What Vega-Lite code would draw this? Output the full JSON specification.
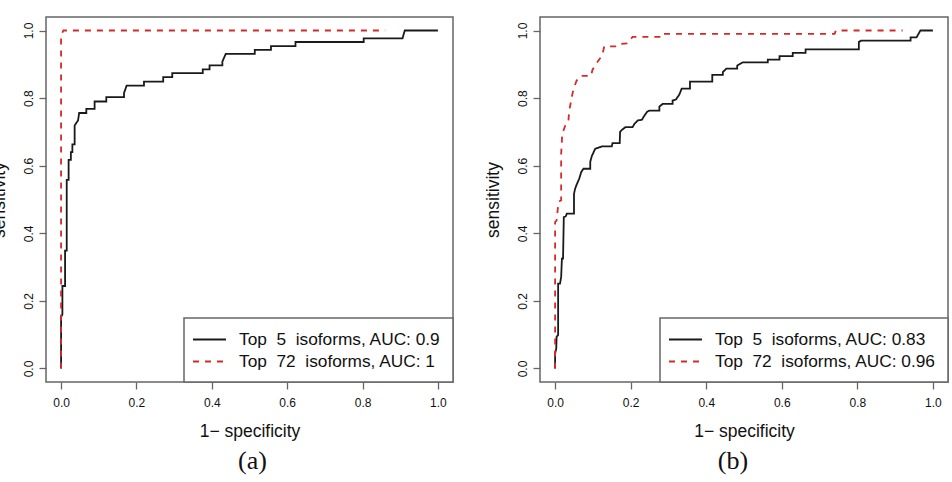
{
  "$schema": "https://vega.github.io/schema/vega-lite/v6.json",
  "padding": {"left": -11, "top": 16, "right": 0, "bottom": 0},
  "background": "white",
  "spacing": 28,
  "datasets": {
    "a": [
      {"model": "Top 5", "i": 0, "fpr": 0, "tpr": 0},
      {"model": "Top 5", "i": 1, "fpr": 0, "tpr": 0.152},
      {"model": "Top 5", "i": 2, "fpr": 0.0035, "tpr": 0.16},
      {"model": "Top 5", "i": 3, "fpr": 0.0035, "tpr": 0.244},
      {"model": "Top 5", "i": 4, "fpr": 0.0106, "tpr": 0.244},
      {"model": "Top 5", "i": 5, "fpr": 0.0106, "tpr": 0.349},
      {"model": "Top 5", "i": 6, "fpr": 0.015, "tpr": 0.349},
      {"model": "Top 5", "i": 7, "fpr": 0.015, "tpr": 0.558},
      {"model": "Top 5", "i": 8, "fpr": 0.02, "tpr": 0.558},
      {"model": "Top 5", "i": 9, "fpr": 0.02, "tpr": 0.617},
      {"model": "Top 5", "i": 10, "fpr": 0.026, "tpr": 0.617},
      {"model": "Top 5", "i": 11, "fpr": 0.026, "tpr": 0.64},
      {"model": "Top 5", "i": 12, "fpr": 0.03, "tpr": 0.64},
      {"model": "Top 5", "i": 13, "fpr": 0.03, "tpr": 0.663},
      {"model": "Top 5", "i": 14, "fpr": 0.036, "tpr": 0.663},
      {"model": "Top 5", "i": 15, "fpr": 0.036, "tpr": 0.719},
      {"model": "Top 5", "i": 16, "fpr": 0.045, "tpr": 0.734},
      {"model": "Top 5", "i": 17, "fpr": 0.048, "tpr": 0.756},
      {"model": "Top 5", "i": 18, "fpr": 0.067, "tpr": 0.756},
      {"model": "Top 5", "i": 19, "fpr": 0.067, "tpr": 0.768},
      {"model": "Top 5", "i": 20, "fpr": 0.089, "tpr": 0.768},
      {"model": "Top 5", "i": 21, "fpr": 0.089, "tpr": 0.79},
      {"model": "Top 5", "i": 22, "fpr": 0.12, "tpr": 0.79},
      {"model": "Top 5", "i": 23, "fpr": 0.12, "tpr": 0.803},
      {"model": "Top 5", "i": 24, "fpr": 0.167, "tpr": 0.803},
      {"model": "Top 5", "i": 25, "fpr": 0.167, "tpr": 0.815},
      {"model": "Top 5", "i": 26, "fpr": 0.174, "tpr": 0.837},
      {"model": "Top 5", "i": 27, "fpr": 0.22, "tpr": 0.837},
      {"model": "Top 5", "i": 28, "fpr": 0.22, "tpr": 0.849},
      {"model": "Top 5", "i": 29, "fpr": 0.271, "tpr": 0.849},
      {"model": "Top 5", "i": 30, "fpr": 0.271, "tpr": 0.862},
      {"model": "Top 5", "i": 31, "fpr": 0.295, "tpr": 0.862},
      {"model": "Top 5", "i": 32, "fpr": 0.295, "tpr": 0.874},
      {"model": "Top 5", "i": 33, "fpr": 0.376, "tpr": 0.874},
      {"model": "Top 5", "i": 34, "fpr": 0.376, "tpr": 0.885},
      {"model": "Top 5", "i": 35, "fpr": 0.394, "tpr": 0.885},
      {"model": "Top 5", "i": 36, "fpr": 0.394, "tpr": 0.897},
      {"model": "Top 5", "i": 37, "fpr": 0.428, "tpr": 0.897},
      {"model": "Top 5", "i": 38, "fpr": 0.428, "tpr": 0.908},
      {"model": "Top 5", "i": 39, "fpr": 0.437, "tpr": 0.931},
      {"model": "Top 5", "i": 40, "fpr": 0.514, "tpr": 0.931},
      {"model": "Top 5", "i": 41, "fpr": 0.514, "tpr": 0.943},
      {"model": "Top 5", "i": 42, "fpr": 0.557, "tpr": 0.943},
      {"model": "Top 5", "i": 43, "fpr": 0.557, "tpr": 0.954},
      {"model": "Top 5", "i": 44, "fpr": 0.622, "tpr": 0.954},
      {"model": "Top 5", "i": 45, "fpr": 0.622, "tpr": 0.966},
      {"model": "Top 5", "i": 46, "fpr": 0.803, "tpr": 0.966},
      {"model": "Top 5", "i": 47, "fpr": 0.803, "tpr": 0.977},
      {"model": "Top 5", "i": 48, "fpr": 0.906, "tpr": 0.977},
      {"model": "Top 5", "i": 49, "fpr": 0.912, "tpr": 1.0},
      {"model": "Top 5", "i": 50, "fpr": 1.0, "tpr": 1.0},
      {"model": "Top 72", "i": 0, "fpr": 0, "tpr": 0},
      {"model": "Top 72", "i": 1, "fpr": 0, "tpr": 0.985},
      {"model": "Top 72", "i": 2, "fpr": 0.006, "tpr": 1.0},
      {"model": "Top 72", "i": 3, "fpr": 0.86, "tpr": 1.0}
    ],
    "b": [
      {"model": "Top 5", "i": 0, "fpr": 0, "tpr": 0},
      {"model": "Top 5", "i": 1, "fpr": 0, "tpr": 0.044},
      {"model": "Top 5", "i": 2, "fpr": 0.003, "tpr": 0.059},
      {"model": "Top 5", "i": 3, "fpr": 0.004, "tpr": 0.094},
      {"model": "Top 5", "i": 4, "fpr": 0.008, "tpr": 0.099},
      {"model": "Top 5", "i": 5, "fpr": 0.008, "tpr": 0.251},
      {"model": "Top 5", "i": 6, "fpr": 0.013, "tpr": 0.251},
      {"model": "Top 5", "i": 7, "fpr": 0.016, "tpr": 0.271},
      {"model": "Top 5", "i": 8, "fpr": 0.018, "tpr": 0.325},
      {"model": "Top 5", "i": 9, "fpr": 0.021, "tpr": 0.325},
      {"model": "Top 5", "i": 10, "fpr": 0.023, "tpr": 0.448},
      {"model": "Top 5", "i": 11, "fpr": 0.028, "tpr": 0.45},
      {"model": "Top 5", "i": 12, "fpr": 0.031, "tpr": 0.458},
      {"model": "Top 5", "i": 13, "fpr": 0.05, "tpr": 0.458},
      {"model": "Top 5", "i": 14, "fpr": 0.05, "tpr": 0.517},
      {"model": "Top 5", "i": 15, "fpr": 0.053, "tpr": 0.532},
      {"model": "Top 5", "i": 16, "fpr": 0.057, "tpr": 0.544},
      {"model": "Top 5", "i": 17, "fpr": 0.064, "tpr": 0.562},
      {"model": "Top 5", "i": 18, "fpr": 0.069, "tpr": 0.581},
      {"model": "Top 5", "i": 19, "fpr": 0.075, "tpr": 0.591},
      {"model": "Top 5", "i": 20, "fpr": 0.093, "tpr": 0.591},
      {"model": "Top 5", "i": 21, "fpr": 0.093, "tpr": 0.611},
      {"model": "Top 5", "i": 22, "fpr": 0.097, "tpr": 0.628},
      {"model": "Top 5", "i": 23, "fpr": 0.106, "tpr": 0.65},
      {"model": "Top 5", "i": 24, "fpr": 0.124, "tpr": 0.657},
      {"model": "Top 5", "i": 25, "fpr": 0.15, "tpr": 0.657},
      {"model": "Top 5", "i": 26, "fpr": 0.152, "tpr": 0.667},
      {"model": "Top 5", "i": 27, "fpr": 0.171, "tpr": 0.667},
      {"model": "Top 5", "i": 28, "fpr": 0.172, "tpr": 0.7},
      {"model": "Top 5", "i": 29, "fpr": 0.177, "tpr": 0.706},
      {"model": "Top 5", "i": 30, "fpr": 0.186, "tpr": 0.714},
      {"model": "Top 5", "i": 31, "fpr": 0.205, "tpr": 0.714},
      {"model": "Top 5", "i": 32, "fpr": 0.21, "tpr": 0.724},
      {"model": "Top 5", "i": 33, "fpr": 0.219, "tpr": 0.734},
      {"model": "Top 5", "i": 34, "fpr": 0.23, "tpr": 0.736},
      {"model": "Top 5", "i": 35, "fpr": 0.234, "tpr": 0.744},
      {"model": "Top 5", "i": 36, "fpr": 0.243, "tpr": 0.759},
      {"model": "Top 5", "i": 37, "fpr": 0.249, "tpr": 0.763},
      {"model": "Top 5", "i": 38, "fpr": 0.276, "tpr": 0.763},
      {"model": "Top 5", "i": 39, "fpr": 0.276, "tpr": 0.775},
      {"model": "Top 5", "i": 40, "fpr": 0.285, "tpr": 0.783},
      {"model": "Top 5", "i": 41, "fpr": 0.311, "tpr": 0.783},
      {"model": "Top 5", "i": 42, "fpr": 0.311, "tpr": 0.793},
      {"model": "Top 5", "i": 43, "fpr": 0.32, "tpr": 0.796},
      {"model": "Top 5", "i": 44, "fpr": 0.329, "tpr": 0.811},
      {"model": "Top 5", "i": 45, "fpr": 0.335, "tpr": 0.828},
      {"model": "Top 5", "i": 46, "fpr": 0.357, "tpr": 0.828},
      {"model": "Top 5", "i": 47, "fpr": 0.357, "tpr": 0.849},
      {"model": "Top 5", "i": 48, "fpr": 0.416, "tpr": 0.849},
      {"model": "Top 5", "i": 49, "fpr": 0.416, "tpr": 0.869},
      {"model": "Top 5", "i": 50, "fpr": 0.444, "tpr": 0.869},
      {"model": "Top 5", "i": 51, "fpr": 0.444, "tpr": 0.877},
      {"model": "Top 5", "i": 52, "fpr": 0.453, "tpr": 0.887},
      {"model": "Top 5", "i": 53, "fpr": 0.482, "tpr": 0.887},
      {"model": "Top 5", "i": 54, "fpr": 0.482, "tpr": 0.896},
      {"model": "Top 5", "i": 55, "fpr": 0.497, "tpr": 0.906},
      {"model": "Top 5", "i": 56, "fpr": 0.563, "tpr": 0.906},
      {"model": "Top 5", "i": 57, "fpr": 0.563, "tpr": 0.914},
      {"model": "Top 5", "i": 58, "fpr": 0.594, "tpr": 0.914},
      {"model": "Top 5", "i": 59, "fpr": 0.594, "tpr": 0.924},
      {"model": "Top 5", "i": 60, "fpr": 0.629, "tpr": 0.924},
      {"model": "Top 5", "i": 61, "fpr": 0.629, "tpr": 0.934},
      {"model": "Top 5", "i": 62, "fpr": 0.663, "tpr": 0.934},
      {"model": "Top 5", "i": 63, "fpr": 0.663, "tpr": 0.944},
      {"model": "Top 5", "i": 64, "fpr": 0.804, "tpr": 0.944},
      {"model": "Top 5", "i": 65, "fpr": 0.804, "tpr": 0.966},
      {"model": "Top 5", "i": 66, "fpr": 0.81, "tpr": 0.97},
      {"model": "Top 5", "i": 67, "fpr": 0.941, "tpr": 0.97},
      {"model": "Top 5", "i": 68, "fpr": 0.941, "tpr": 0.98},
      {"model": "Top 5", "i": 69, "fpr": 0.957, "tpr": 0.98},
      {"model": "Top 5", "i": 70, "fpr": 0.967, "tpr": 1.0},
      {"model": "Top 5", "i": 71, "fpr": 1.0, "tpr": 1.0},
      {"model": "Top 72", "i": 0, "fpr": 0, "tpr": 0},
      {"model": "Top 72", "i": 1, "fpr": 0, "tpr": 0.433},
      {"model": "Top 72", "i": 2, "fpr": 0.004, "tpr": 0.438},
      {"model": "Top 72", "i": 3, "fpr": 0.009, "tpr": 0.493},
      {"model": "Top 72", "i": 4, "fpr": 0.016, "tpr": 0.498},
      {"model": "Top 72", "i": 5, "fpr": 0.016, "tpr": 0.635},
      {"model": "Top 72", "i": 6, "fpr": 0.019, "tpr": 0.695},
      {"model": "Top 72", "i": 7, "fpr": 0.027, "tpr": 0.719},
      {"model": "Top 72", "i": 8, "fpr": 0.035, "tpr": 0.729},
      {"model": "Top 72", "i": 9, "fpr": 0.037, "tpr": 0.759},
      {"model": "Top 72", "i": 10, "fpr": 0.044, "tpr": 0.803},
      {"model": "Top 72", "i": 11, "fpr": 0.049, "tpr": 0.828},
      {"model": "Top 72", "i": 12, "fpr": 0.057, "tpr": 0.852},
      {"model": "Top 72", "i": 13, "fpr": 0.068, "tpr": 0.866},
      {"model": "Top 72", "i": 14, "fpr": 0.095, "tpr": 0.866},
      {"model": "Top 72", "i": 15, "fpr": 0.099, "tpr": 0.884},
      {"model": "Top 72", "i": 16, "fpr": 0.112, "tpr": 0.907},
      {"model": "Top 72", "i": 17, "fpr": 0.125, "tpr": 0.927},
      {"model": "Top 72", "i": 18, "fpr": 0.13, "tpr": 0.953},
      {"model": "Top 72", "i": 19, "fpr": 0.16, "tpr": 0.953},
      {"model": "Top 72", "i": 20, "fpr": 0.168, "tpr": 0.96},
      {"model": "Top 72", "i": 21, "fpr": 0.19, "tpr": 0.962},
      {"model": "Top 72", "i": 22, "fpr": 0.205, "tpr": 0.981},
      {"model": "Top 72", "i": 23, "fpr": 0.28, "tpr": 0.981},
      {"model": "Top 72", "i": 24, "fpr": 0.282, "tpr": 0.99},
      {"model": "Top 72", "i": 25, "fpr": 0.74, "tpr": 0.99},
      {"model": "Top 72", "i": 26, "fpr": 0.743, "tpr": 1.0},
      {"model": "Top 72", "i": 27, "fpr": 0.92, "tpr": 1.0}
    ]
  },
  "hconcat": [
    {
      "data": {"name": "a"},
      "width": 407,
      "height": 365,
      "title": {"text": "(a)", "dx": 3},
      "mark": {"type": "line", "strokeWidth": 1.8},
      "encoding": {
        "x": {"field": "fpr", "type": "quantitative", "scale": {"domain": [-0.04, 1.04], "nice": false, "zero": false}, "axis": {"values": [0, 0.2, 0.4, 0.6, 0.8, 1], "format": ".1f", "title": "1\u2212 specificity"}},
        "y": {"field": "tpr", "type": "quantitative", "scale": {"domain": [-0.04, 1.04], "nice": false, "zero": false}, "axis": {"values": [0, 0.2, 0.4, 0.6, 0.8, 1], "format": ".1f", "title": "sensitivity", "labelAngle": -90, "labelAlign": "center", "labelBaseline": "bottom", "labelPadding": 4}},
        "color": {"field": "model", "type": "nominal", "scale": {"domain": ["Top 5", "Top 72"], "range": ["#1a1a1a", "#D42A2A"]}, "legend": {"title": null, "labelExpr": "datum.value == 'Top 5' ? 'Top\u00a0\u00a05\u00a0\u00a0isoforms, AUC: 0.9' : 'Top\u00a0\u00a072\u00a0\u00a0isoforms, AUC: 1'"}},
        "strokeDash": {"field": "model", "type": "nominal", "scale": {"domain": ["Top 5", "Top 72"], "range": [[1, 0], [6, 6]]}, "legend": {"title": null, "labelExpr": "datum.value == 'Top 5' ? 'Top\u00a0\u00a05\u00a0\u00a0isoforms, AUC: 0.9' : 'Top\u00a0\u00a072\u00a0\u00a0isoforms, AUC: 1'"}},
        "order": {"field": "i", "type": "quantitative"}
      }
    },
    {
      "data": {"name": "b"},
      "width": 408,
      "height": 365,
      "title": {"text": "(b)", "dx": -11},
      "mark": {"type": "line", "strokeWidth": 1.8},
      "encoding": {
        "x": {"field": "fpr", "type": "quantitative", "scale": {"domain": [-0.04, 1.04], "nice": false, "zero": false}, "axis": {"values": [0, 0.2, 0.4, 0.6, 0.8, 1], "format": ".1f", "title": "1\u2212 specificity"}},
        "y": {"field": "tpr", "type": "quantitative", "scale": {"domain": [-0.04, 1.04], "nice": false, "zero": false}, "axis": {"values": [0, 0.2, 0.4, 0.6, 0.8, 1], "format": ".1f", "title": "sensitivity", "labelAngle": -90, "labelAlign": "center", "labelBaseline": "bottom", "labelPadding": 4}},
        "color": {"field": "model", "type": "nominal", "scale": {"domain": ["Top 5", "Top 72"], "range": ["#1a1a1a", "#D42A2A"]}, "legend": {"title": null, "labelExpr": "datum.value == 'Top 5' ? 'Top\u00a0\u00a05\u00a0\u00a0isoforms, AUC: 0.83' : 'Top\u00a0\u00a072\u00a0\u00a0isoforms, AUC: 0.96'"}},
        "strokeDash": {"field": "model", "type": "nominal", "scale": {"domain": ["Top 5", "Top 72"], "range": [[1, 0], [6, 6]]}, "legend": {"title": null, "labelExpr": "datum.value == 'Top 5' ? 'Top\u00a0\u00a05\u00a0\u00a0isoforms, AUC: 0.83' : 'Top\u00a0\u00a072\u00a0\u00a0isoforms, AUC: 0.96'"}},
        "order": {"field": "i", "type": "quantitative"}
      }
    }
  ],
  "resolve": {
    "scale": {"color": "independent", "strokeDash": "independent", "x": "independent", "y": "independent"},
    "legend": {"color": "independent", "strokeDash": "independent"}
  },
  "config": {
    "view": {"stroke": "#666666", "strokeWidth": 1.5},
    "axis": {
      "domain": false,
      "grid": false,
      "ticks": true,
      "tickColor": "#666666",
      "tickSize": 7,
      "tickWidth": 1.3,
      "labelFont": "Liberation Sans",
      "labelFontSize": 12,
      "labelColor": "#111111",
      "titleFont": "Liberation Sans",
      "titleFontSize": 17.5,
      "titleFontWeight": "normal",
      "titleColor": "#111111"
    },
    "axisX": {"labelPadding": 8, "titlePadding": 14},
    "axisY": {"titlePadding": 14},
    "legend": {
      "orient": "bottom-right",
      "offset": 0,
      "padding": 12,
      "strokeColor": "#666666",
      "strokeWidth": 1.5,
      "fillColor": "white",
      "symbolType": "M-1.94,0H1.94",
      "symbolSize": 289,
      "symbolStrokeWidth": 1.8,
      "symbolOffset": 4,
      "labelOffset": 20,
      "labelFont": "Liberation Sans",
      "labelFontSize": 17.3,
      "labelColor": "#111111",
      "labelLimit": 400,
      "rowPadding": 4
    },
    "title": {
      "orient": "bottom",
      "frame": "group",
      "anchor": "middle",
      "font": "Liberation Serif",
      "fontSize": 26,
      "fontWeight": "normal",
      "color": "#111111",
      "offset": 8
    }
  }
}
